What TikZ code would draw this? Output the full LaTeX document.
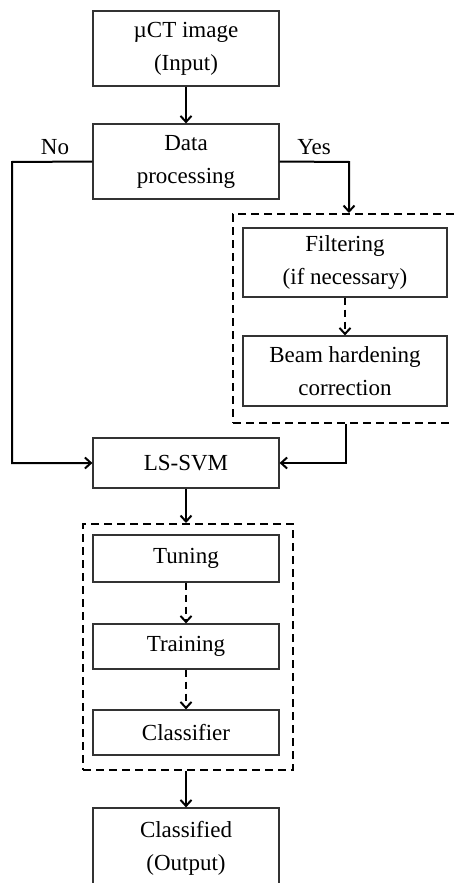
\documentclass[tikz,border=0pt]{standalone}
\usepackage{fontspec}
\setmainfont{Liberation Serif}
\usetikzlibrary{arrows.meta}

\begin{document}
\begin{tikzpicture}[x=1pt,y=-1pt,
    box/.style={draw=black!80,line width=1.2pt,align=center,inner sep=0pt,
      minimum width=186pt,font=\fontsize{23}{33}\selectfont},
    grpbox/.style={draw,line width=2pt,dash pattern=on 8pt off 5pt,inner sep=0pt},
    flow/.style={line width=2pt,-{Straight Barb[length=6pt,width=11pt,line width=2pt]}},
    dflow/.style={flow,dash pattern=on 7pt off 5pt},
    lbl/.style={font=\fontsize{23}{33}\selectfont}]
  \useasboundingbox (0,0) rectangle (454,883);
  \clip (0,0) rectangle (454,883);
  % main column
  \node[box,minimum height=75pt] (ct) at (186,48.5) {µCT image\\(Input)};
  \node[box,minimum height=75pt] (proc) at (186,161.5) {Data\\processing};
  \node[box,minimum height=50pt] (svm) at (186,463) {LS-SVM};
  % pre-processing group
  \node[grpbox,minimum width=240pt,minimum height=209pt] (pre) at (353,318.5) {};
  \node[box,minimum width=204pt,minimum height=69pt] (filt) at (345,262.5) {Filtering\\(if necessary)};
  \node[box,minimum width=204pt,minimum height=70pt] (beam) at (345,371) {Beam hardening\\correction};
  % classification group
  \node[grpbox,minimum width=210pt,minimum height=246pt] (cls) at (188,647) {};
  \node[box,minimum height=47pt] (tune) at (186,558.5) {Tuning};
  \node[box,minimum height=45pt] (train) at (186,646.5) {Training};
  \node[box,minimum height=45pt] (clsf) at (186,732.5) {Classifier};
  \node[box,minimum height=80pt] (out) at (186,848) {Classified\\(Output)};
  % branch labels
  \node[lbl] (no) at (55,147) {No};
  \node[lbl] (yes) at (314,147) {Yes};
  \coordinate (nobend) at (12,162);
  \coordinate (yesbend) at (349,162);
  \coordinate (prebend) at (346,463);
  % connectors
  \draw[flow] (ct) -- (proc);
  \draw[flow] (proc.east) -- (yesbend) -- (yesbend |- pre.north);
  \draw[flow] (proc.west) -- (nobend) |- (svm.west);
  \draw[dflow] (filt) -- (beam);
  \draw[flow] (prebend |- pre.south) -- (prebend) -- (svm.east);
  \draw[flow] (svm.south) -- (svm.south |- cls.north);
  \draw[dflow] (tune) -- (train);
  \draw[dflow] (train) -- (clsf);
  \draw[flow] (clsf.south |- cls.south) -- (out);
\end{tikzpicture}
\end{document}
